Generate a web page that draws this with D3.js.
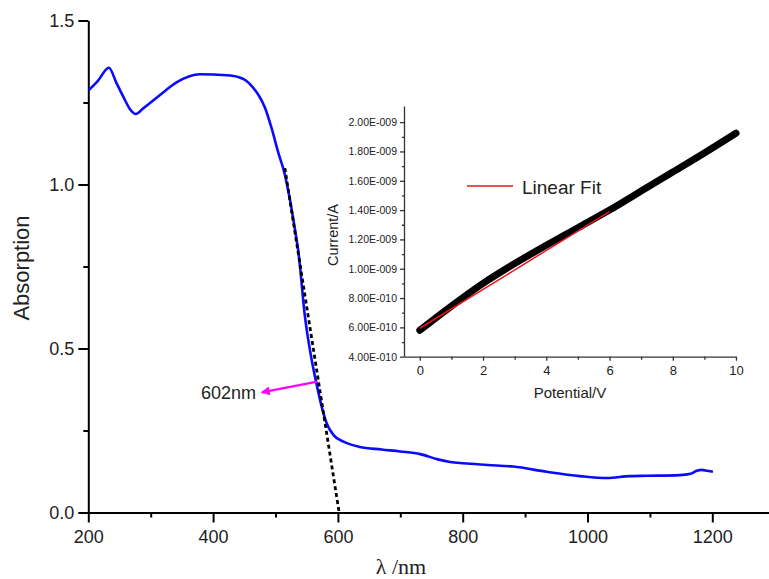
<!DOCTYPE html>
<html><head><meta charset="utf-8">
<script src="https://cdn.jsdelivr.net/npm/d3@7/dist/d3.min.js"></script>
<style>body{margin:0;background:#fff}svg{display:block}</style>
</head><body>
<svg id="c" width="769" height="579"></svg>
<script>
// Main absorption spectrum
const wavelength = [201, 215, 233, 245, 256, 266, 276, 288, 315, 342, 379, 422, 440, 452, 462, 472, 483, 494, 504, 515, 523, 531, 537, 547, 558, 565, 574, 582, 593, 609, 635, 670, 700, 732, 760, 780, 801, 840, 881, 935, 988, 1031, 1068, 1095, 1148, 1165, 1175, 1183, 1192, 1201];
const absorption = [1.288, 1.315, 1.356, 1.31, 1.268, 1.232, 1.215, 1.232, 1.273, 1.312, 1.336, 1.333, 1.328, 1.318, 1.30, 1.275, 1.235, 1.17, 1.10, 1.03, 0.955, 0.865, 0.79, 0.60, 0.465, 0.399, 0.323, 0.272, 0.236, 0.216, 0.20, 0.192, 0.186, 0.178, 0.162, 0.154, 0.150, 0.145, 0.140, 0.124, 0.111, 0.105, 0.111, 0.112, 0.114, 0.118, 0.127, 0.130, 0.127, 0.124];
// tangent (onset) line
const tangentX = [515, 602];
const tangentY = [1.05, 0];
// arrow annotation
const arrowX = [567, 478];
const arrowY = [0.399, 0.366];
const annotation = "602nm";
const xTicksMain = [200, 400, 600, 800, 1000, 1200];
const yTicksMain = [0.0, 0.5, 1.0, 1.5];

// Inset I-V data
const potential = [0, 1, 2, 3, 4, 5, 6, 7, 8, 9, 10];
const current = [0.58e-9, 0.745e-9, 0.90e-9, 1.035e-9, 1.16e-9, 1.28e-9, 1.40e-9, 1.53e-9, 1.66e-9, 1.79e-9, 1.925e-9];
const fitX = [0, 6];
const fitY = [0.594e-9, 1.39e-9];
const xTicksInset = [0, 2, 4, 6, 8, 10];
const yTicksInset = [4e-10, 6e-10, 8e-10, 1.0e-9, 1.2e-9, 1.4e-9, 1.6e-9, 1.8e-9, 2.0e-9];

const svg = d3.select("#c");
const font = "Liberation Sans, Arial, sans-serif";

// ---------- main chart ----------
const x = d3.scaleLinear().domain([200, 1300]).range([88.3, 774.7]);
const y = d3.scaleLinear().domain([0, 1.5]).range([512.5, 20.5]);

const gx = svg.append("g").attr("transform", `translate(0,${y(0)})`)
  .call(d3.axisBottom(x).tickValues(xTicksMain).tickSize(10).tickSizeOuter(0).tickPadding(8).tickFormat(d3.format("d")));
gx.append("g").call(d3.axisBottom(x).tickValues([300, 500, 700, 900, 1100]).tickSize(5).tickFormat(""))
  .select(".domain").remove();
const gy = svg.append("g").attr("transform", `translate(${x(200)},0)`)
  .call(d3.axisLeft(y).tickValues(yTicksMain).tickSize(10).tickSizeOuter(0).tickPadding(4).tickFormat(d3.format(".1f")));
gy.append("g").call(d3.axisLeft(y).tickValues([0.25, 0.75, 1.25]).tickSize(5).tickFormat(""))
  .select(".domain").remove();
[gx, gy].forEach(g => {
  g.selectAll(".domain, line").attr("stroke", "#000").attr("stroke-width", 2);
  g.selectAll("text").attr("font-family", font).attr("font-size", 18).attr("fill", "#222");
});

svg.append("text").attr("transform", "translate(29,268) rotate(-90)")
  .attr("text-anchor", "middle").attr("font-family", font).attr("font-size", 22).attr("fill", "#222").text("Absorption");
svg.append("text").attr("x", 401).attr("y", 574).attr("text-anchor", "middle")
  .attr("font-family", "Liberation Serif, Times New Roman, serif").attr("font-size", 22).attr("fill", "#222").text("λ /nm");

const line = d3.line().x(d => x(d[0])).y(d => y(d[1])).curve(d3.curveMonotoneX);
svg.append("path").datum(wavelength.map((w, i) => [w, absorption[i]]))
  .attr("d", line).attr("fill", "none").attr("stroke", "#0a0aff").attr("stroke-width", 2.6);

svg.append("path").datum(tangentX.map((w, i) => [w, tangentY[i]]))
  .attr("d", d3.line().x(d => x(d[0])).y(d => y(d[1])))
  .attr("fill", "none").attr("stroke", "#000").attr("stroke-width", 2.8).attr("stroke-dasharray", "4,3");

// arrow
svg.append("defs").append("marker").attr("id", "ah").attr("viewBox", "0 0 10 10")
  .attr("refX", 9).attr("refY", 5).attr("markerWidth", 5).attr("markerHeight", 4).attr("orient", "auto")
  .append("path").attr("d", "M0,0L10,5L0,10z").attr("fill", "#ff00ff");
svg.append("line").attr("x1", x(arrowX[0])).attr("y1", y(arrowY[0])).attr("x2", x(arrowX[1])).attr("y2", y(arrowY[1]))
  .attr("stroke", "#ff00ff").attr("stroke-width", 2.2).attr("marker-end", "url(#ah)");
svg.append("text").attr("x", 256).attr("y", 399).attr("text-anchor", "end")
  .attr("font-family", font).attr("font-size", 18).attr("fill", "#222").text(annotation);

// ---------- inset ----------
const xi = d3.scaleLinear().domain([-0.5, 10]).range([404, 736]);
const yi = d3.scaleLinear().domain([4e-10, 2.11e-9]).range([356.7, 106]);

const ix = svg.append("g").attr("transform", `translate(0,${yi(4e-10)})`)
  .call(d3.axisBottom(xi).tickValues(xTicksInset).tickSize(4).tickSizeOuter(0).tickPadding(5).tickFormat(d3.format("d")));
ix.append("g").call(d3.axisBottom(xi).tickValues([1, 3, 5, 7, 9]).tickSize(3).tickFormat("")).select(".domain").remove();
const iy = svg.append("g").attr("transform", `translate(${xi(-0.5)},0)`)
  .call(d3.axisLeft(yi).tickValues(yTicksInset).tickSize(4).tickSizeOuter(0).tickPadding(3)
    .tickFormat(d => { const e = d.toExponential(2).split("e"); const p = +e[1]; return e[0] + "E" + (p < 0 ? "-" : "+") + String(Math.abs(p)).padStart(3, "0"); }));
iy.append("g").call(d3.axisLeft(yi).tickValues(d3.range(5, 21, 2).map(v => v * 1e-10)).tickSize(2).tickFormat("")).select(".domain").remove();
ix.selectAll("text").attr("font-size", 13);
iy.selectAll("text").attr("font-size", 10.5);
[ix, iy].forEach(g => {
  g.selectAll(".domain, line").attr("stroke", "#333").attr("stroke-width", 1.3);
  g.selectAll("text").attr("font-family", font).attr("fill", "#222");
});
svg.append("text").attr("x", 570).attr("y", 398).attr("text-anchor", "middle")
  .attr("font-family", font).attr("font-size", 15).attr("fill", "#222").text("Potential/V");
svg.append("text").attr("transform", "translate(338,235) rotate(-90)").attr("text-anchor", "middle")
  .attr("font-family", font).attr("font-size", 14.5).attr("fill", "#222").text("Current/A");

svg.append("path").datum(potential.map((p, i) => [p, current[i]]))
  .attr("d", d3.line().x(d => xi(d[0])).y(d => yi(d[1])).curve(d3.curveMonotoneX))
  .attr("fill", "none").attr("stroke", "#000").attr("stroke-width", 7).attr("stroke-linecap", "round");
svg.append("path").datum(fitX.map((p, i) => [p, fitY[i]]))
  .attr("d", d3.line().x(d => xi(d[0])).y(d => yi(d[1])))
  .attr("fill", "none").attr("stroke", "#e8141c").attr("stroke-width", 1.5);

// legend
svg.append("line").attr("x1", 467).attr("x2", 513).attr("y1", 186).attr("y2", 186)
  .attr("stroke", "#e8141c").attr("stroke-width", 1.5);
svg.append("text").attr("x", 522).attr("y", 194).attr("font-family", font).attr("font-size", 19)
  .attr("fill", "#222").text("Linear Fit");
</script>
</body></html>
